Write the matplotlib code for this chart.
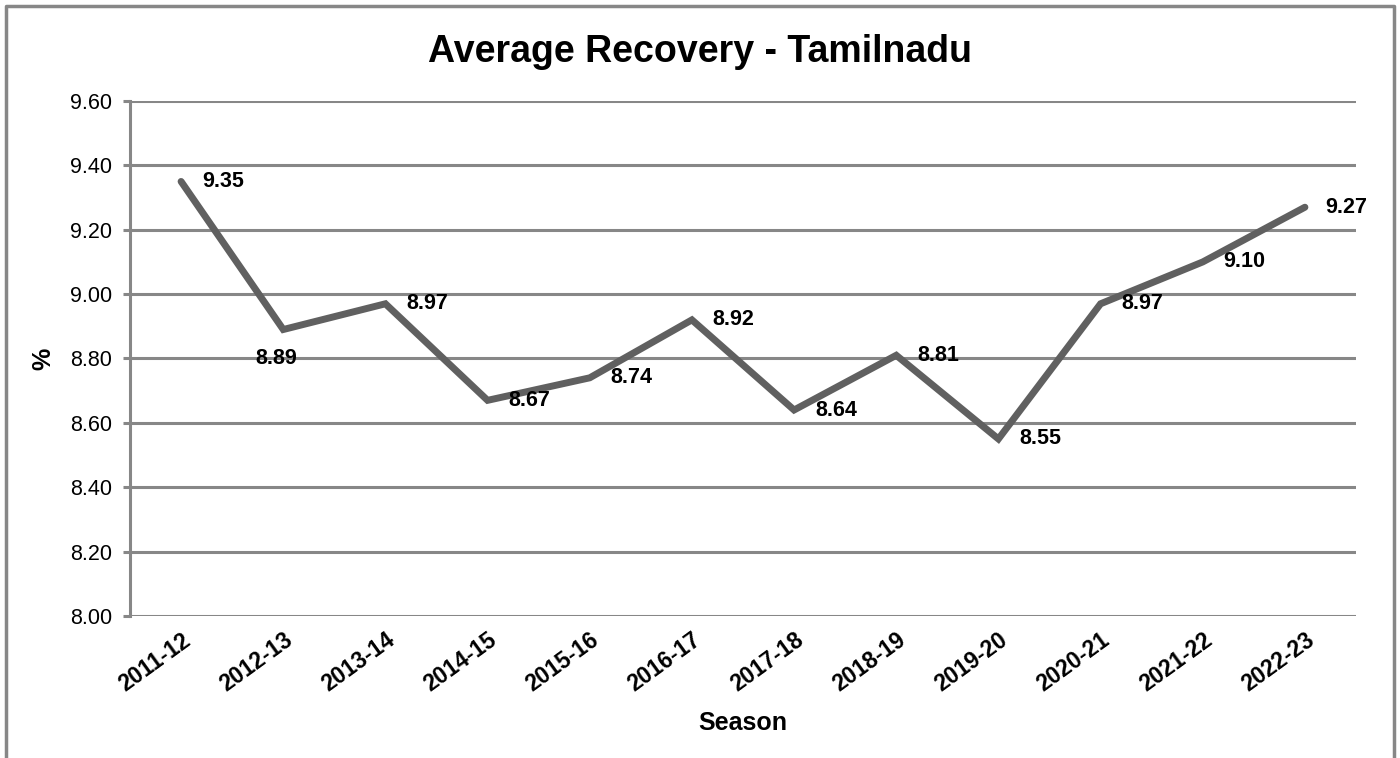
"""
Average Recovery - Tamilnadu (line chart, Excel style)
"""

import matplotlib
matplotlib.use('Agg')
import matplotlib.pyplot as plt
from matplotlib.lines import Line2D
from matplotlib import rcParams

rcParams['font.family'] = ['Liberation Sans', 'DejaVu Sans']

seasons = ["2011-12", "2012-13", "2013-14", "2014-15", "2015-16", "2016-17",
           "2017-18", "2018-19", "2019-20", "2020-21", "2021-22", "2022-23"]
recovery = [9.35, 8.89, 8.97, 8.67, 8.74, 8.92, 8.64, 8.81, 8.55, 8.97, 9.10, 9.27]
y_ticks = [8.00, 8.20, 8.40, 8.60, 8.80, 9.00, 9.20, 9.40, 9.60]

GRID = "#878787"
LINE = "#606060"

fig = plt.figure(figsize=(14, 7.58), dpi=100)
ax = fig.add_axes([130 / 1400, 1 - 616 / 758, 1226 / 1400, 515 / 758])

x = list(range(len(seasons)))
ax.plot(x, recovery, color=LINE, linewidth=5, solid_capstyle="round",
        solid_joinstyle="miter", zorder=3)

# data labels: right of point, except 2012-13 which sits below
for i, v in enumerate(recovery):
    if seasons[i] == "2012-13":
        off, ha, va = (-5, -21), "center", "center"
    else:
        off, ha, va = (15, 0), "left", "center"
    ax.annotate(f"{v:.2f}", (i, v), xytext=off, textcoords="offset points",
                ha=ha, va=va, fontsize=15.5, fontweight="bold", zorder=4)

ax.set_xlim(-0.5, len(seasons) - 0.5)
ax.set_ylim(8.0, 9.6)
ax.set_yticks(y_ticks)
ax.set_yticklabels([f"{t:.2f}" for t in y_ticks], fontsize=15.5)
ax.set_xticks(x)
ax.set_xticklabels(seasons, rotation=36, ha="right", va="top",
                   rotation_mode="anchor", fontsize=16.5, fontweight="bold")
for lbl in ax.get_xticklabels():
    lbl.set_x(lbl.get_position()[0])

ax.grid(axis="y", color=GRID, linewidth=2.2)
ax.set_axisbelow(True)
for s in ["top", "right", "bottom"]:
    ax.spines[s].set_visible(False)
ax.spines["left"].set_color(GRID)
ax.spines["left"].set_linewidth(2.2)
ax.tick_params(axis="y", color=GRID, width=2.2, length=5, pad=8)
ax.tick_params(axis="x", length=0, pad=9)

ax.set_xlabel("Season", fontsize=18, fontweight="bold", va="center")
ax.xaxis.set_label_coords(0.5, (616 - 723) / 515)
ax.set_ylabel("%", fontsize=18, fontweight="bold", va="center")
ax.yaxis.set_label_coords((43 - 130) / 1226, 0.5)
fig.text(0.5, 1 - 52 / 758, "Average Recovery - Tamilnadu", ha="center",
         va="center", fontsize=27, fontweight="bold")

# outer chart border (bottom edge is cut off in the original)
xl, xr, yt = 6 / 1400, 1394 / 1400, 1 - 6 / 758
fig.add_artist(Line2D([xl, xl, xr, xr], [0, yt, yt, 0], color=GRID,
                      linewidth=2.5, transform=fig.transFigure))

fig.savefig("out.png", dpi=100)
